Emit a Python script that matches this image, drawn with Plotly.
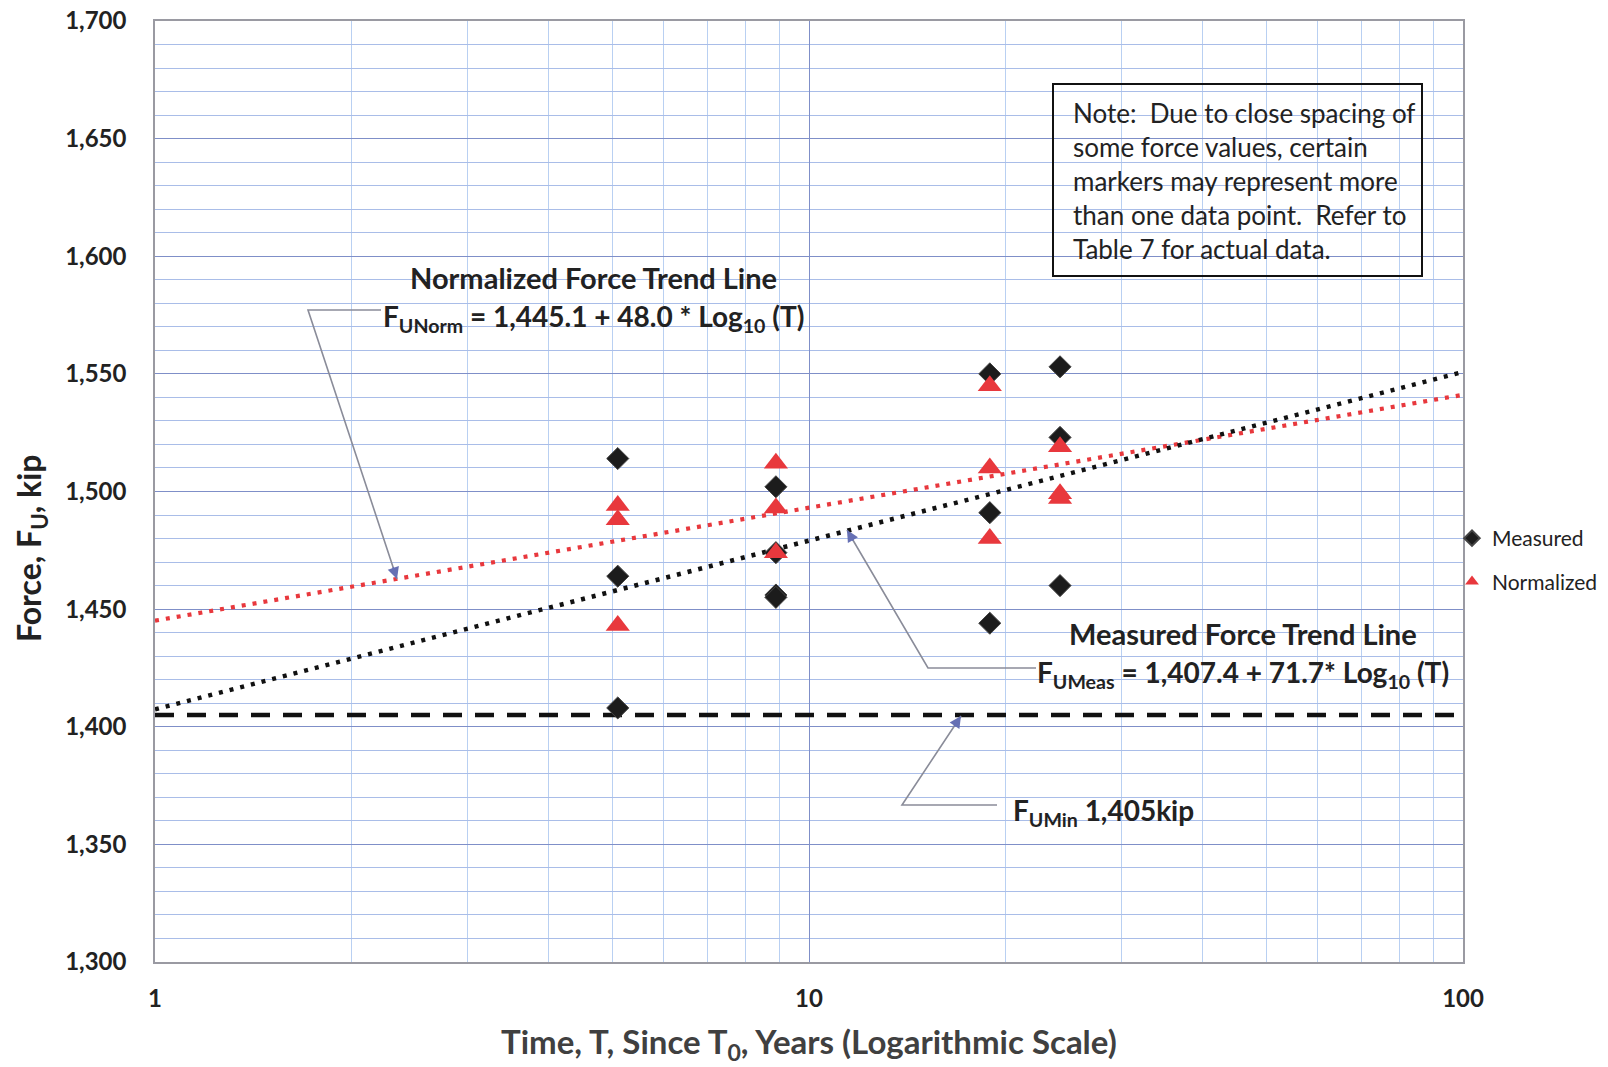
import plotly.graph_objects as go

# ---------------- data ----------------
measured_T = [5.1, 5.1, 5.1, 8.9, 8.9, 8.9, 8.9, 18.9, 18.9, 18.9, 24.2, 24.2, 24.2]
measured_F = [1514, 1464, 1408, 1502, 1474, 1456, 1455, 1550, 1491, 1444, 1553, 1523, 1460]

normalized_T = [5.1, 5.1, 5.1, 8.9, 8.9, 8.9, 18.9, 18.9, 18.9, 24.2, 24.2, 24.2]
normalized_F = [1494, 1488, 1443, 1512, 1493, 1474, 1545, 1510, 1480, 1519, 1499, 1497]

trend_T = [1, 100]
measured_trend_F = [1407.4, 1550.8]
normalized_trend_F = [1445.1, 1541.1]
min_force_F = [1405, 1405]

x_tick_vals = [1, 10, 100]
x_tick_text = ["1", "10", "100"]
x_minor_vals = [2, 3, 4, 5, 6, 7, 8, 9, 20, 30, 40, 50, 60, 70, 80, 90]

FONT = "Lato"
TXT = "#222222"

# plot area in pixels
L, R, T, B = 155, 1463, 21, 962
W, H = 1608, 1067


def px(x):
    return (x - L) / (R - L)


def py(y):
    return (B - y) / (B - T)


fig = go.Figure()

fig.add_trace(go.Scatter(x=trend_T, y=min_force_F, mode="lines",
                         line=dict(color="#111111", width=4.5, dash="19px,13px"),
                         showlegend=False, hoverinfo="skip"))
fig.add_trace(go.Scatter(x=trend_T, y=normalized_trend_F, mode="lines",
                         line=dict(color="#e8383d", width=4.2, dash="4px,7px"),
                         showlegend=False, hoverinfo="skip"))
fig.add_trace(go.Scatter(x=trend_T, y=measured_trend_F, mode="lines",
                         line=dict(color="#111111", width=4.5, dash="4px,7px"),
                         showlegend=False, hoverinfo="skip"))

fig.add_trace(go.Scatter(x=measured_T, y=measured_F, mode="markers", name="Measured",
                         legendgroup="a",
                         marker=dict(symbol="diamond", size=17, color="#1c1c1c",
                                     line=dict(color="#444444", width=1))))
fig.add_trace(go.Scatter(x=normalized_T, y=normalized_F, mode="markers", name="Normalized",
                         legendgroup="b",
                         marker=dict(symbol="triangle-up", size=21, color="#e8383d",
                                     line=dict(width=0))))

annotations = []
shapes = []

# axis titles
annotations.append(dict(xref="paper", yref="paper", x=px(809), y=py(1043),
                        text="Time, T, Since T<sub>0</sub>, Years (Logarithmic Scale)",
                        showarrow=False, xanchor="center", yanchor="middle",
                        font=dict(family=FONT, size=33, color="#404040", weight="bold")))
annotations.append(dict(xref="paper", yref="paper", x=px(31), y=py(549),
                        text="Force, F<sub>U</sub>, kip", textangle=-90,
                        showarrow=False, xanchor="center", yanchor="middle",
                        font=dict(family=FONT, size=32, color=TXT, weight="bold")))

# trend line labels
bold = dict(family=FONT, size=28, color=TXT, weight="bold")
annotations.append(dict(xref="paper", yref="paper", x=px(593), y=py(277),
                        text="Normalized Force Trend Line", showarrow=False,
                        xanchor="center", yanchor="middle",
                        font=dict(family=FONT, size=29, color=TXT, weight="bold")))
annotations.append(dict(xref="paper", yref="paper", x=px(593), y=py(318),
                        text="F<sub>UNorm</sub> = 1,445.1 + 48.0 * Log<sub>10</sub> (T)",
                        showarrow=False, xanchor="center", yanchor="middle", font=bold))
annotations.append(dict(xref="paper", yref="paper", x=px(1243), y=py(633),
                        text="Measured Force Trend Line", showarrow=False,
                        xanchor="center", yanchor="middle",
                        font=dict(family=FONT, size=29, color=TXT, weight="bold")))
annotations.append(dict(xref="paper", yref="paper", x=px(1243), y=py(674),
                        text="F<sub>UMeas</sub> = 1,407.4 + 71.7* Log<sub>10</sub> (T)",
                        showarrow=False, xanchor="center", yanchor="middle", font=bold))
annotations.append(dict(xref="paper", yref="paper", x=px(1103), y=py(812),
                        text="F<sub>UMin</sub> 1,405kip",
                        showarrow=False, xanchor="center", yanchor="middle", font=bold))

# connectors (elbow lines) + arrowheads
connectors = [
    [(381, 310), (308, 310), (397, 579)],
    [(1036, 668), (928, 668), (847, 530)],
    [(997, 805), (902, 805), (961, 716)],
]
for pts in connectors:
    path = "M {} {}".format(px(pts[0][0]), py(pts[0][1]))
    for (x, y) in pts[1:]:
        path += " L {} {}".format(px(x), py(y))
    shapes.append(dict(type="path", xref="paper", yref="paper", path=path,
                       line=dict(color="#8a8c99", width=1.6)))
    (x1, y1), (x2, y2) = pts[1], pts[2]
    dx, dy = x2 - x1, y2 - y1
    n = (dx * dx + dy * dy) ** 0.5
    annotations.append(dict(xref="paper", yref="paper", x=px(x2), y=py(y2),
                            ax=-dx / n * 14, ay=-dy / n * 14, text="",
                            showarrow=True, arrowhead=2, arrowsize=1.3,
                            arrowwidth=1.8, arrowcolor="#6670b4"))

# note box
shapes.append(dict(type="rect", xref="paper", yref="paper",
                   x0=px(1053), x1=px(1422), y0=py(276), y1=py(84),
                   line=dict(color="#111111", width=2)))
note_lines = ["Note:  Due to close spacing of",
              "some force values, certain",
              "markers may represent more",
              "than one data point.  Refer to",
              "Table 7 for actual data."]
for i, ln in enumerate(note_lines):
    annotations.append(dict(xref="paper", yref="paper", x=px(1071), y=py(113 + i * 34),
                            text=ln, showarrow=False, xanchor="left", yanchor="middle",
                            font=dict(family=FONT, size=26, color=TXT)))

fig.update_layout(
    width=W, height=H,
    margin=dict(l=L, r=W - R, t=T, b=H - B, autoexpand=False),
    paper_bgcolor="white", plot_bgcolor="white",
    font=dict(family=FONT, color=TXT),
    annotations=annotations, shapes=shapes,
    legend=dict(x=px(1452), y=py(518), xanchor="left", yanchor="top",
                font=dict(family=FONT, size=21, color=TXT),
                itemsizing="constant", tracegroupgap=13, traceorder="grouped",
                bgcolor="rgba(0,0,0,0)", itemwidth=30),
    xaxis=dict(type="log", range=[0, 2], tickmode="array", tickvals=x_tick_vals,
               ticktext=x_tick_text, ticks="", ticklabelstandoff=14,
               tickfont=dict(family=FONT, size=24, color=TXT, weight="bold"),
               showgrid=True, gridcolor="#7f8fc8", gridwidth=1.2,
               minor=dict(tickmode="array", tickvals=x_minor_vals, showgrid=True,
                          gridcolor="#b9d0f2", gridwidth=1),
               showline=True, linecolor="#9a9aa2", linewidth=1.5, mirror=True,
               zeroline=False, automargin=False),
    yaxis=dict(range=[1300, 1700], tickmode="linear", tick0=1300, dtick=50,
               tickformat=",d", ticks="", ticklabelstandoff=22,
               tickfont=dict(family=FONT, size=24, color=TXT, weight="bold"),
               showgrid=True, gridcolor="#7f8fc8", gridwidth=1.2,
               minor=dict(dtick=10, showgrid=True, gridcolor="#a9bde8", gridwidth=1),
               showline=True, linecolor="#9a9aa2", linewidth=1.5, mirror=True,
               zeroline=False, automargin=False),
)

fig.write_html("out.html")
